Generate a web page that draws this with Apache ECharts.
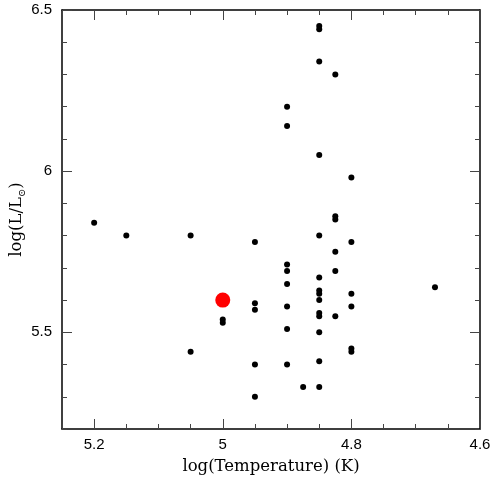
<!DOCTYPE html>
<html>
<head>
<meta charset="utf-8">
<script src="https://cdn.jsdelivr.net/npm/echarts@6/dist/echarts.min.js"></script>
<style>html,body{margin:0;padding:0;background:#fff}#c{width:494px;height:481px}</style>
</head>
<body>
<div id="c"></div>
<script>
// log(Temperature) (K) and log(L/Lsun) of the black points
const blackTemp = [5.2, 5.15, 5.05, 5.05, 5.0, 5.0,
  4.95, 4.95, 4.95, 4.95, 4.95,
  4.9, 4.9, 4.9, 4.9, 4.9, 4.9, 4.9, 4.9,
  4.875,
  4.85, 4.85, 4.85, 4.85, 4.85, 4.85, 4.85, 4.85, 4.85, 4.85, 4.85, 4.85, 4.85, 4.85,
  4.825, 4.825, 4.825, 4.825, 4.825, 4.825,
  4.8, 4.8, 4.8, 4.8, 4.8, 4.8,
  4.67];
const blackLum = [5.84, 5.80, 5.80, 5.44, 5.54, 5.53,
  5.78, 5.59, 5.57, 5.40, 5.30,
  6.20, 6.14, 5.71, 5.69, 5.65, 5.58, 5.51, 5.40,
  5.33,
  6.45, 6.44, 6.34, 6.05, 5.80, 5.67, 5.63, 5.62, 5.60, 5.56, 5.55, 5.50, 5.41, 5.33,
  6.30, 5.86, 5.85, 5.75, 5.69, 5.55,
  5.98, 5.78, 5.62, 5.58, 5.45, 5.44,
  5.64];
// highlighted (red) point
const redTemp = [5.0];
const redLum = [5.60];

// axis ticks
const xMajorTicks = [5.2, 5.0, 4.8, 4.6];
const xMinorTicks = [5.25, 5.15, 5.1, 5.05, 4.95, 4.9, 4.85, 4.75, 4.7, 4.65];
const yMajorTicks = [5.5, 6.0, 6.5];
const yMinorTicks = [5.2, 5.3, 5.4, 5.6, 5.7, 5.8, 5.9, 6.1, 6.2, 6.3, 6.4];

const xRange = [4.6, 5.25];
const yRange = [5.2, 6.5];
const xTitle = 'log(Temperature) (K)';
const yTitle = 'log(L/L{s|⊙})';

const chart = echarts.init(document.getElementById('c'), null, {renderer: 'canvas'});

const lineStyle = {color: '#000', width: 1.5};
const tickStyle = {color: '#444', width: 1};
const labelFont = {color: '#000', fontFamily: 'Liberation Sans', fontSize: 15};
const titleFont = {color: '#000', fontFamily: 'DejaVu Serif', fontSize: 16.5};

function xAx(pos, ticks, len, withLabel, withLine) {
  return {
    type: 'value', position: pos, min: xRange[0], max: xRange[1], inverse: true,
    axisLine: {show: withLine, onZero: false, lineStyle: lineStyle},
    axisTick: {show: true, inside: true, length: len, customValues: ticks, lineStyle: tickStyle},
    axisLabel: withLabel ? Object.assign({show: true, margin: 8, customValues: xMajorTicks}, labelFont) : {show: false},
    splitLine: {show: false},
    name: withLabel ? xTitle : '',
    nameLocation: 'middle', nameGap: 29, nameMoveOverlap: false,
    nameTextStyle: titleFont
  };
}
function yAx(pos, ticks, len, withLabel, withLine) {
  return {
    type: 'value', position: pos, min: yRange[0], max: yRange[1],
    axisLine: {show: withLine, onZero: false, lineStyle: lineStyle},
    axisTick: {show: true, inside: true, length: len, customValues: ticks, lineStyle: tickStyle},
    axisLabel: withLabel ? Object.assign({show: true, margin: 10, customValues: yMajorTicks}, labelFont) : {show: false},
    splitLine: {show: false},
    name: withLabel ? yTitle : '',
    nameLocation: 'middle', nameGap: 35, nameMoveOverlap: false,
    nameTextStyle: Object.assign({
      rich: {
        s: {fontFamily: 'DejaVu Serif', fontSize: 10, padding: [10, 0, 0, 0], color: '#000'}
      }
    }, titleFont)
  };
}

chart.setOption({
  animation: false,
  backgroundColor: '#fff',
  grid: {left: 62, right: 14, top: 10, bottom: 52, containLabel: false, outerBoundsMode: 'none'},
  xAxis: [
    xAx('bottom', xMajorTicks, 10, true, true),
    xAx('bottom', xMinorTicks, 5, false, false),
    xAx('top', xMajorTicks, 10, false, true),
    xAx('top', xMinorTicks, 5, false, false)
  ],
  yAxis: [
    yAx('left', yMajorTicks, 10, true, true),
    yAx('left', yMinorTicks, 5, false, false),
    yAx('right', yMajorTicks, 10, false, true),
    yAx('right', yMinorTicks, 5, false, false)
  ],
  series: [
    {
      type: 'scatter', xAxisIndex: 0, yAxisIndex: 0,
      data: blackTemp.map((t, i) => [t, blackLum[i]]),
      symbol: 'circle', symbolSize: 6,
      itemStyle: {color: '#000', opacity: 1}
    },
    {
      type: 'scatter', xAxisIndex: 0, yAxisIndex: 0,
      data: redTemp.map((t, i) => [t, redLum[i]]),
      symbol: 'circle', symbolSize: 15,
      itemStyle: {color: '#ff0000', opacity: 1}
    }
  ]
});
</script>
</body>
</html>
